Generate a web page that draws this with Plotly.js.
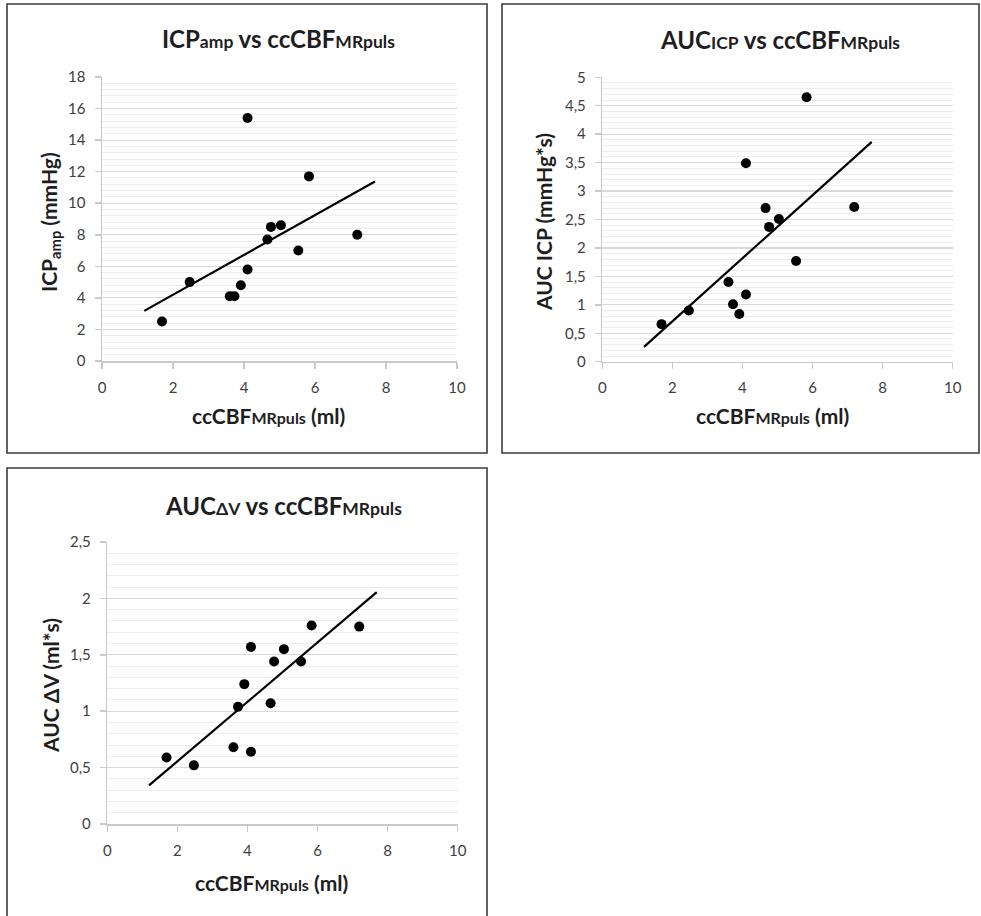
<!DOCTYPE html>
<html>
<head>
<meta charset="utf-8">
<script src="https://cdn.plot.ly/plotly-3.0.1.min.js"></script>
<style>
  html, body { margin: 0; padding: 0; background: #fff; }
  #chart { width: 981px; height: 916px; }
</style>
</head>
<body>
<div id="chart"></div>
<script>
// Pulsatile cerebral blood flow (ml) per subject
const ccCBF = [1.69, 2.47, 3.60, 3.73, 3.91, 4.10, 4.10, 4.66, 4.76, 5.04, 5.53, 5.83, 7.19];
// ICP amplitude (mmHg)
const icpAmp = [2.5, 5.0, 4.1, 4.1, 4.8, 15.4, 5.8, 7.7, 8.5, 8.6, 7.0, 11.7, 8.0];
// Area under the ICP curve (mmHg*s)
const aucIcp = [0.66, 0.90, 1.40, 1.01, 0.84, 3.49, 1.18, 2.70, 2.37, 2.51, 1.77, 4.65, 2.72];
// Area under the volume-change curve (ml*s)
const aucDV = [0.59, 0.52, 0.68, 1.04, 1.24, 1.57, 0.64, 1.07, 1.44, 1.55, 1.44, 1.76, 1.75];

const xTickVals = [0, 2, 4, 6, 8, 10];
const yRanges = [[0, 18], [0, 5], [0, 2.5]];
const yMajor = [2, 0.5, 0.5];
const yMinor = [0.4, 0.1, 0.1];
const trendForecast = 0.5; // trendline extended this far past the data on each side

const W = 981, H = 916;
const FONT = 'Lato, "Open Sans", sans-serif';
const TEXT = '#1e1e1e';

// least-squares line
function linFit(x, y) {
  const n = x.length;
  const mx = x.reduce((a, b) => a + b, 0) / n;
  const my = y.reduce((a, b) => a + b, 0) / n;
  let sxy = 0, sxx = 0;
  for (let i = 0; i < n; i++) { sxy += (x[i] - mx) * (y[i] - my); sxx += (x[i] - mx) ** 2; }
  const slope = sxy / sxx;
  return { slope, intercept: my - slope * mx };
}

const panels = [
  { y: icpAmp, xa: 'x', ya: 'y', px: [102, 457], py: [77, 361] },
  { y: aucIcp, xa: 'x2', ya: 'y2', px: [602.3, 952.7], py: [77.3, 361.7] },
  { y: aucDV, xa: 'x3', ya: 'y3', px: [107.3, 457.7], py: [542, 824] }
];

const traces = [];
const layout = {
  width: W, height: H,
  margin: { l: 0, r: 0, t: 0, b: 0 },
  paper_bgcolor: '#fff', plot_bgcolor: '#fff',
  showlegend: false,
  separators: ', ',
  font: { family: FONT, color: TEXT },
  annotations: [], shapes: []
};

panels.forEach((p, i) => {
  traces.push({
    x: ccCBF, y: p.y, xaxis: p.xa, yaxis: p.ya,
    type: 'scatter', mode: 'markers',
    marker: { color: '#000', size: 10 },
    hoverinfo: 'x+y'
  });
  const f = linFit(ccCBF, p.y);
  const x0 = Math.min(...ccCBF) - trendForecast;
  const x1 = Math.max(...ccCBF) + trendForecast;
  traces.push({
    x: [x0, x1], y: [f.intercept + f.slope * x0, f.intercept + f.slope * x1],
    xaxis: p.xa, yaxis: p.ya, type: 'scatter', mode: 'lines',
    line: { color: '#000', width: 2.2 }, hoverinfo: 'skip'
  });

  const sfx = i === 0 ? '' : String(i + 1);
  layout['xaxis' + sfx] = {
    domain: [p.px[0] / W, p.px[1] / W],
    anchor: 'y' + sfx,
    range: [0, 10], fixedrange: true,
    tickvals: xTickVals,
    showgrid: false, zeroline: false,
    showline: true, linecolor: '#c9c9c9', linewidth: 1.5,
    ticks: 'outside', ticklen: 6, tickcolor: '#c9c9c9', tickwidth: 1.5,
    ticklabelstandoff: 6,
    tickfont: { family: FONT, size: 15, color: '#404040' }
  };
  layout['yaxis' + sfx] = {
    domain: [1 - p.py[1] / H, 1 - p.py[0] / H],
    anchor: 'x' + sfx,
    range: yRanges[i], fixedrange: true,
    dtick: yMajor[i], tick0: 0,
    showgrid: true, gridcolor: '#d9d9d9', gridwidth: 1.2,
    minor: { dtick: yMinor[i], tick0: 0, showgrid: true, gridcolor: '#ececec', gridwidth: 1 },
    zeroline: false,
    showline: true, linecolor: '#c9c9c9', linewidth: 1.5,
    ticks: 'outside', ticklen: 6, tickcolor: '#c9c9c9', tickwidth: 1.5,
    ticklabelstandoff: 6,
    tickfont: { family: FONT, size: 15, color: '#404040' }
  };
});

// panel frames
const frames = [[7, 4, 487, 453], [502, 4, 979, 453], [7, 468, 487, 930]];
frames.forEach(f => layout.shapes.push({
  type: 'rect', xref: 'paper', yref: 'paper',
  x0: f[0] / W, x1: f[2] / W, y0: 1 - f[3] / H, y1: 1 - f[1] / H,
  line: { color: '#3c3c3c', width: 1.6 }, fillcolor: 'rgba(0,0,0,0)'
}));

function note(text, px, py, size, rot) {
  layout.annotations.push({
    text, xref: 'paper', yref: 'paper', x: px / W, y: 1 - py / H,
    xanchor: 'center', yanchor: 'middle', showarrow: false,
    textangle: rot || 0,
    font: { family: FONT, size, color: TEXT }
  });
}
const sm = (t, s) => `<span style="font-size:${s}px">${t}</span>`;

// chart titles
note(`<b>ICP${sm('amp', 17.5)} vs ccCBF${sm('MRpuls', 17.5)}</b>`, 278, 38, 24);
note(`<b>AUC${sm('ICP', 17.5)} vs ccCBF${sm('MRpuls', 17.5)}</b>`, 780, 40, 24);
note(`<b>AUC${sm('ΔV', 17.5)} vs ccCBF${sm('MRpuls', 17.5)}</b>`, 283, 505, 24);

// x-axis titles
note(`<b>ccCBF${sm('MRpuls', 16)} (ml)</b>`, 268, 415, 21);
note(`<b>ccCBF${sm('MRpuls', 16)} (ml)</b>`, 772, 415, 21);
note(`<b>ccCBF${sm('MRpuls', 16)} (ml)</b>`, 271, 882, 21);

// y-axis titles
note(`<b>ICP<sub>amp</sub> (mmHg)</b>`, 50, 222, 21, -90);
note(`<b>AUC ICP (mmHg*s)</b>`, 544, 222, 21, -90);
note(`<b>AUC ΔV (ml*s)</b>`, 50, 686, 21, -90);

Plotly.newPlot('chart', traces, layout, { displayModeBar: false, staticPlot: true });
</script>
</body>
</html>
